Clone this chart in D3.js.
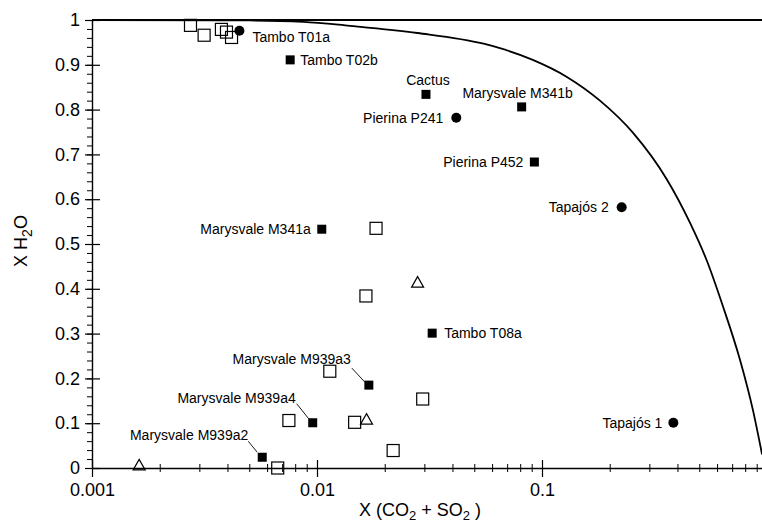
<!DOCTYPE html>
<html>
<head>
<meta charset="utf-8">
<script src="https://cdn.jsdelivr.net/npm/d3@7"></script>
<style>
  body { margin: 0; background: #fff; }
  svg { display: block; font-family: "Liberation Sans", Arial, Helvetica, sans-serif; }
</style>
</head>
<body>
<div id="chart"></div>
<script>
// labelled samples (filled symbols)
var sampleNames = ["Tambo T01a", "Tambo T02b", "Cactus", "Marysvale M341b", "Pierina P241",
  "Pierina P452", "Tapajós 2", "Tapajós 1", "Tambo T08a", "Marysvale M341a",
  "Marysvale M939a3", "Marysvale M939a4", "Marysvale M939a2"];
var sampleShape = ["circle", "square", "square", "square", "circle",
  "square", "circle", "circle", "square", "square",
  "square", "square", "square"];
var sampleX = [0.00452, 0.0076, 0.0305, 0.0812, 0.0416, 0.0925, 0.226, 0.3835, 0.0325, 0.0105, 0.0170, 0.00957, 0.00571];
var sampleY = [0.976, 0.911, 0.834, 0.806, 0.782, 0.683, 0.582, 0.101, 0.301, 0.533, 0.185, 0.101, 0.024];

// unlabelled open squares
var openSquareX = [0.00274, 0.00315, 0.00376, 0.00396, 0.00417, 0.0183, 0.0165, 0.0114, 0.0295, 0.0075, 0.0147, 0.0218, 0.00669];
var openSquareY = [0.988, 0.966, 0.979, 0.973, 0.961, 0.535, 0.384, 0.216, 0.154, 0.106, 0.102, 0.039, 0.0];

// open triangles
var triangleX = [0.028, 0.0166, 0.00162];
var triangleY = [0.415, 0.109, 0.007];

// saturation curve
var curveX = [0.001, 0.005, 0.0087, 0.014, 0.028, 0.055, 0.065, 0.091, 0.129, 0.181, 0.254, 0.359, 0.455, 0.541, 0.637, 0.759, 0.867, 0.951];
var curveY = [1.0, 0.999, 0.996, 0.987, 0.971, 0.947, 0.937, 0.911, 0.873, 0.820, 0.748, 0.644, 0.547, 0.462, 0.361, 0.241, 0.128, 0.03];

var yMajor = [0, 0.1, 0.2, 0.3, 0.4, 0.5, 0.6, 0.7, 0.8, 0.9, 1];
var xMajor = [0.001, 0.01, 0.1];
var xTickLabels = ["0.001", "0.01", "0.1"];

// label placement relative to the symbol (pixels)
var labelPos = {
  "Tambo T01a":       {dx: 13, dy: 6, anchor: "start"},
  "Tambo T02b":       {dx: 10, dy: 0, anchor: "start"},
  "Cactus":           {dx: 2, dy: -14, anchor: "middle"},
  "Marysvale M341b":  {dx: -4, dy: -14, anchor: "middle"},
  "Pierina P241":     {dx: -13, dy: 0, anchor: "end"},
  "Pierina P452":     {dx: -11, dy: 0, anchor: "end"},
  "Tapajós 2":        {dx: -13, dy: 0, anchor: "end"},
  "Tapajós 1":        {dx: -11, dy: 0, anchor: "end"},
  "Tambo T08a":       {dx: 12, dy: 0, anchor: "start"},
  "Marysvale M341a":  {dx: -11, dy: 0, anchor: "end"},
  "Marysvale M939a3": {dx: -18, dy: -26, anchor: "end", lead: [-17, -17, -4, -3]},
  "Marysvale M939a4": {dx: -17, dy: -25, anchor: "end", lead: [-16, -19, -4, -4]},
  "Marysvale M939a2": {dx: -14, dy: -22, anchor: "end", lead: [-14, -16, -5, -5]}
};

var W = 762, H = 524;
var mLeft = 92, mTop = 20, mBottom = 468;

var svg = d3.select("#chart").append("svg")
    .attr("width", W)
    .attr("height", H);

var x = d3.scaleLog().domain([0.001, 1]).range([mLeft, mLeft + 675]);
var y = d3.scaleLinear().domain([0, 1]).range([mBottom, mTop]);

// y axis, minor ticks first
svg.append("g")
    .attr("transform", "translate(" + mLeft + ",0)")
    .call(d3.axisLeft(y).tickValues(d3.range(0, 51).map(function(i) { return i / 50; }))
      .tickSize(5).tickSizeOuter(0).tickFormat(""))
    .call(function(g) { g.select(".domain").remove(); })
    .selectAll("line").attr("stroke-width", 1);

var yAx = svg.append("g")
    .attr("transform", "translate(" + mLeft + ",0)")
    .call(d3.axisLeft(y).tickValues(yMajor).tickSize(7).tickSizeOuter(0)
      .tickFormat(function(d) { return d3.format("")(d); }));
yAx.select(".domain").attr("stroke-width", 1.4);
yAx.selectAll(".tick line").attr("x1", 8).attr("stroke-width", 1.2);
yAx.selectAll(".tick text").attr("x", -12).attr("font-size", 18).attr("fill", "#000")
    .attr("font-family", "Liberation Sans, Arial, sans-serif");

// x axis minor ticks
var xMinor = [];
[0.001, 0.01, 0.1].forEach(function(dec) {
  for (var k = 2; k <= 9; k++) xMinor.push(dec * k);
});
svg.append("g")
    .attr("transform", "translate(0," + mBottom + ")")
    .call(d3.axisBottom(x).tickValues(xMinor).tickSize(4).tickSizeOuter(0).tickFormat(""))
    .call(function(g) { g.select(".domain").remove(); })
    .selectAll("line").attr("y1", -4).attr("stroke-width", 1);

var xAx = svg.append("g")
    .attr("transform", "translate(0," + mBottom + ")")
    .call(d3.axisBottom(x).tickValues(xMajor).tickSize(9).tickSizeOuter(0)
      .tickFormat(function(d, i) { return xTickLabels[i]; }));
xAx.select(".domain").attr("stroke-width", 1.4);
xAx.selectAll(".tick line").attr("y1", -8).attr("stroke-width", 1.2);
xAx.selectAll(".tick text").attr("y", 15).attr("font-size", 18).attr("fill", "#000")
    .attr("font-family", "Liberation Sans, Arial, sans-serif");

// top frame line
svg.append("line")
    .attr("x1", mLeft).attr("x2", W)
    .attr("y1", y(1)).attr("y2", y(1))
    .attr("stroke", "#000").attr("stroke-width", 2);

// curve
var curve = curveX.map(function(v, i) { return [v, curveY[i]]; });
svg.append("path")
    .datum(curve)
    .attr("fill", "none")
    .attr("stroke", "#000")
    .attr("stroke-width", 1.8)
    .attr("d", d3.line()
      .x(function(d) { return x(d[0]); })
      .y(function(d) { return y(d[1]); })
      .curve(d3.curveMonotoneX));

// open squares
svg.append("g").selectAll("rect")
    .data(openSquareX.map(function(v, i) { return [v, openSquareY[i]]; }))
    .enter().append("rect")
      .attr("x", function(d) { return x(d[0]) - 6; })
      .attr("y", function(d) { return y(d[1]) - 6; })
      .attr("width", 12).attr("height", 12)
      .attr("fill", "none")
      .attr("stroke", "#000").attr("stroke-width", 1.2);

// open triangles
svg.append("g").selectAll("path")
    .data(triangleX.map(function(v, i) { return [v, triangleY[i]]; }))
    .enter().append("path")
      .attr("transform", function(d) { return "translate(" + x(d[0]) + "," + y(d[1]) + ")"; })
      .attr("d", "M0,-5.5L6,5L-6,5Z")
      .attr("fill", "none").attr("stroke", "#000").attr("stroke-width", 1.2);

// labelled samples
var samples = sampleNames.map(function(n, i) {
  return {name: n, shape: sampleShape[i], x: sampleX[i], y: sampleY[i]};
});

var sg = svg.append("g").selectAll("g")
    .data(samples)
    .enter().append("g")
      .attr("transform", function(d) { return "translate(" + x(d.x) + "," + y(d.y) + ")"; });

sg.filter(function(d) { return d.shape == "square"; })
  .append("rect")
    .attr("x", -4.5).attr("y", -4.5).attr("width", 9).attr("height", 9)
    .attr("fill", "#000");

sg.filter(function(d) { return d.shape == "circle"; })
  .append("circle")
    .attr("r", 5)
    .attr("fill", "#000");

sg.filter(function(d) { return labelPos[d.name].lead; })
  .append("line")
    .attr("x1", function(d) { return labelPos[d.name].lead[0]; })
    .attr("y1", function(d) { return labelPos[d.name].lead[1]; })
    .attr("x2", function(d) { return labelPos[d.name].lead[2]; })
    .attr("y2", function(d) { return labelPos[d.name].lead[3]; })
    .attr("stroke", "#000").attr("stroke-width", 0.9);

sg.append("text")
    .attr("x", function(d) { return labelPos[d.name].dx; })
    .attr("y", function(d) { return labelPos[d.name].dy; })
    .attr("dy", "0.35em")
    .attr("text-anchor", function(d) { return labelPos[d.name].anchor; })
    .attr("font-size", 14)
    .attr("fill", "#000")
    .text(function(d) { return d.name; });

// axis titles
var xt = svg.append("text")
    .attr("x", 420).attr("y", 516)
    .attr("text-anchor", "middle")
    .attr("font-size", 18);
xt.append("tspan").text("X (CO");
xt.append("tspan").attr("dy", 4).attr("font-size", 13).text("2");
xt.append("tspan").attr("dy", -4).text(" + SO");
xt.append("tspan").attr("dy", 4).attr("font-size", 13).text("2");
xt.append("tspan").attr("dy", -4).text(" )");

var yt = svg.append("text")
    .attr("transform", "translate(27,241) rotate(-90)")
    .attr("text-anchor", "middle")
    .attr("font-size", 18);
yt.append("tspan").text("X H");
yt.append("tspan").attr("dy", 5).attr("font-size", 14).text("2");
yt.append("tspan").attr("dy", -5).text("O");
</script>
</body>
</html>
